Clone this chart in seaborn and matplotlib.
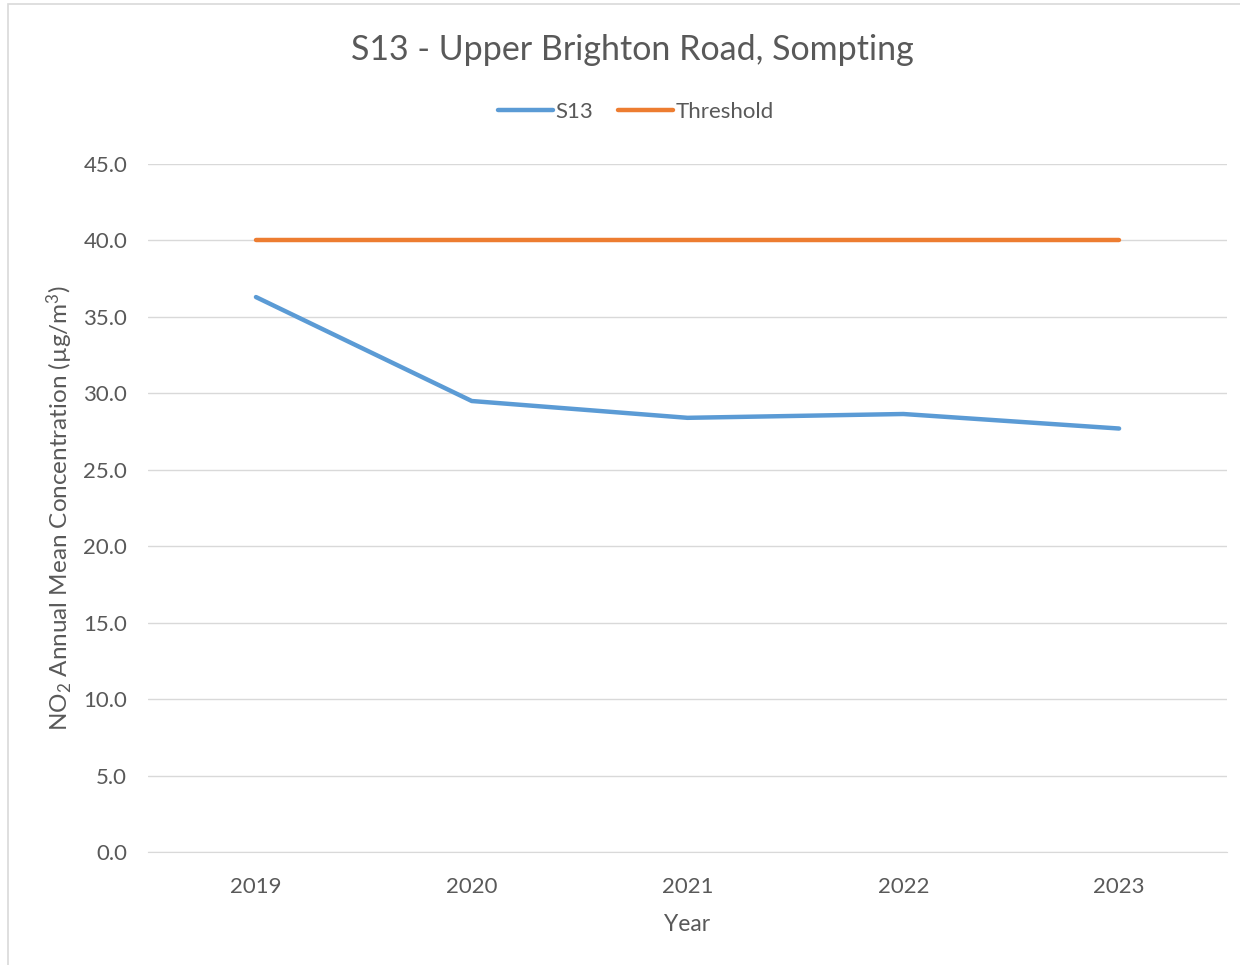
import pandas as pd
import matplotlib.pyplot as plt
import seaborn as sns
from matplotlib.patches import Rectangle

# data
years = ['2019', '2020', '2021', '2022', '2023']
s13 = [36.3, 29.5, 28.4, 28.65, 27.7]
threshold = [40.0, 40.0, 40.0, 40.0, 40.0]

df = pd.DataFrame({
    'Year': years * 2,
    'value': s13 + threshold,
    'series': ['S13'] * len(years) + ['Threshold'] * len(years),
})

sns.set_style('white')
plt.rcParams['font.family'] = ['Lato', 'DejaVu Sans']
plt.rcParams['mathtext.fontset'] = 'custom'
plt.rcParams['mathtext.rm'] = 'Lato'
plt.rcParams['mathtext.it'] = 'Lato:italic'

grey = '#595959'
fig = plt.figure(figsize=(12.4, 9.65), dpi=100)
ax = fig.add_axes([0.1194, 0.1171, 0.8701, 0.7129])

sns.lineplot(data=df, x='Year', y='value', hue='series',
             palette={'S13': '#5B9BD5', 'Threshold': '#ED7D31'},
             linewidth=3.2, solid_capstyle='round', ax=ax)

ax.set_xlim(-0.5, 4.5)
ax.set_ylim(0, 45)
ax.set_yticks(range(0, 46, 5))
ax.set_yticklabels([f'{v:.1f}' for v in range(0, 46, 5)])
ax.grid(axis='y', color='#D9D9D9', linewidth=1)
ax.grid(axis='x', visible=False)
for s in ['top', 'right', 'left']:
    ax.spines[s].set_visible(False)
ax.spines['bottom'].set_color('#D9D9D9')
ax.tick_params(axis='both', colors=grey, labelsize=16, length=0)
ax.tick_params(axis='y', pad=15)
ax.tick_params(axis='x', pad=18)

ax.set_xlabel('Year', fontsize=16.5, color=grey, labelpad=12)
ax.set_ylabel('NO$_2$ Annual Mean Concentration (µg/m$^3$)', fontsize=17.5, color=grey, labelpad=6)

leg = ax.legend(loc='center', bbox_to_anchor=(0.452, 1.076), ncol=2, frameon=False,
                fontsize=16, handlelength=2.5, handletextpad=0.1, columnspacing=1.1)
for t in leg.get_texts():
    t.set_color(grey)
for h in leg.get_lines():
    h.set_solid_capstyle('round')

fig.text(0.5097, 0.948, 'S13 - Upper Brighton Road, Sompting', ha='center', va='center',
         fontsize=24.5, color=grey)

# light chart border
fig.patches.append(Rectangle((8 / 1240, -0.01), 1.1, 1 - 4 / 965 + 0.01, transform=fig.transFigure,
                             fill=False, edgecolor='#D9D9D9', linewidth=1.2))

fig.savefig('out.png', dpi=100)
